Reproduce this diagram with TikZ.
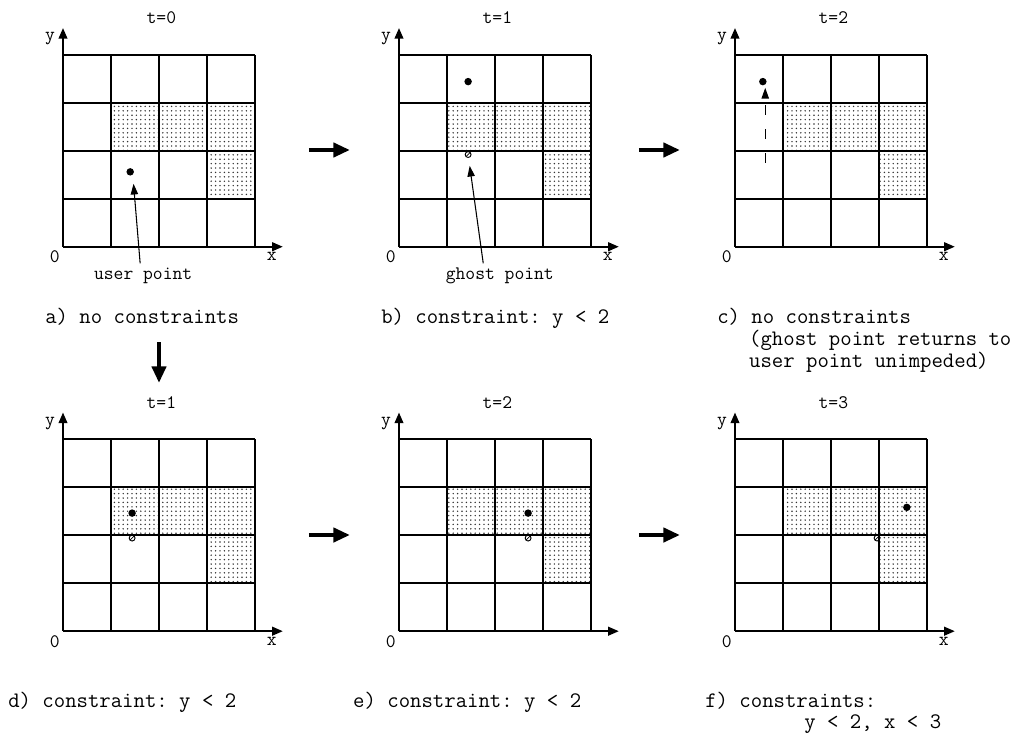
\documentclass[tikz,border=0pt]{standalone}
\usetikzlibrary{arrows.meta,positioning,patterns.meta}

\begin{document}
\frenchspacing
\begin{tikzpicture}[
    x=36pt, y=36pt,
    gridline/.style={line width=1.4pt},
    shaded/.style={pattern={Dots[distance=3.3pt, radius=0.6pt]}, pattern color=black!80},
    axis/.style={line width=1.4pt, -{Triangle[length=8pt, width=6.5pt]}},
    lbl/.style={font=\ttfamily\fontsize{14.3}{16}\selectfont, inner sep=0pt},
    captxt/.style={font=\ttfamily\fontsize{16.6}{16.5}\selectfont, inner sep=0pt, anchor=base west},
    userpt/.style={circle, fill=black, inner sep=0pt, minimum size=5.6pt},
    ghostpt/.style={circle, draw=black, line width=0.7pt, inner sep=0pt, minimum size=4.4pt,
        path picture={\draw[line width=0.5pt] (path picture bounding box.south west) -- (path picture bounding box.north east);}},
    pointer/.style={line width=0.8pt, -{Triangle[length=8pt, width=5.5pt]}},
    bigarr/.style={line width=3.5pt, -{Triangle[length=12.5pt, width=10.5pt]}}
]
    \useasboundingbox (0,0) rectangle (21.271,-15.417);

    % the six grids
    \foreach \ox/\oy/\tv/\xl [count=\i] in {1.3125/-5.14/0/x, 8.3125/-5.14/1/x, 15.3125/-5.14/2/x,
                                         1.3125/-13.15/1/x, 8.3125/-13.15/2/{}, 15.3125/-13.15/3/x} {
        \coordinate (p\i) at (\ox,\oy);
        \begin{scope}[shift={(\ox,\oy)}]
            \fill[shaded] (1,2) rectangle (4,3);
            \fill[shaded] (3,1) rectangle (4,2);
            \foreach \k in {0,...,4} {
                \draw[gridline] (\k,0) -- (\k,4);
                \draw[gridline] (0,\k) -- (4,\k);
            }
            \draw[axis] (0,4) -- (0,4.556);
            \draw[axis] (4,0) -- (4.58,0);
            \node[lbl] (y\i) at (-0.27,4.33) {y};
            \node[lbl] (o\i) at (-0.17,-0.21) {0};
            \node[lbl] (x\i) at (4.35,-0.21) {\xl};
            \node[lbl] (t\i) at (2.05,4.77) {t=\tv};
        \end{scope}
    }

    % a) no constraints
    \node[userpt] (ua) at ([shift={(1.4,1.56)}]p1) {};
    \node[lbl] (ula) at ([shift={(1.67,-0.6)}]p1) {user point};
    \draw[pointer, shorten <=3pt, shorten >=6pt] ([xshift=-2pt]ula.north) -- ([xshift=2pt]ua.south);
    \node[captxt] (capa) at ([shift={(-0.375,-1.59)}]p1) {a) no constraints};

    % b) constraint: y < 2
    \node[userpt] (ub) at ([shift={(1.44,3.44)}]p2) {};
    \node[ghostpt] (gb) at ([shift={(1.44,1.92)}]p2) {};
    \node[lbl] (glb) at ([shift={(2.1,-0.6)}]p2) {ghost point};
    \draw[pointer, shorten <=3pt, shorten >=6pt] ([xshift=-12pt]glb.north) -- (gb);
    \node[captxt] (capb) at ([shift={(-0.375,-1.59)}]p2) {b) constraint: y < 2};

    % c) no constraints
    \node[userpt] (uc) at ([shift={(0.58,3.44)}]p3) {};
    \coordinate (cs) at ([shift={(0.63,1.75)}]p3);
    \coordinate (ct) at ([shift={(0.63,3.31)}]p3);
    \draw[pointer, dash pattern=on 7.5pt off 10.5pt] (cs) -- (ct);
    \node[captxt] (capc) at ([shift={(-0.375,-1.59)}]p3) {c) no constraints};
    \node[captxt] (capc2) at ([shift={(0.29,-2.05)}]p3) {(ghost point returns to};
    \node[captxt] (capc3) at ([shift={(0.29,-2.51)}]p3) {user point unimpeded)};

    % d) e) f)
    \node[userpt] (ud) at ([shift={(1.44,2.46)}]p4) {};
    \node[ghostpt] (gd) at ([shift={(1.44,1.94)}]p4) {};
    \node[captxt] (capd) at ([shift={(-1.146,-1.58)}]p4) {d) constraint: y < 2};

    \node[userpt] (ue) at ([shift={(2.69,2.46)}]p5) {};
    \node[ghostpt] (ge) at ([shift={(2.69,1.94)}]p5) {};
    \node[captxt] (cape) at ([shift={(-0.96,-1.58)}]p5) {e) constraint: y < 2};

    \node[userpt] (uf) at ([shift={(3.58,2.58)}]p6) {};
    \node[ghostpt] (gf) at ([shift={(2.96,1.94)}]p6) {};
    \node[captxt] (capf) at ([shift={(-0.625,-1.58)}]p6) {f) constraints:};
    \node[captxt] (capf2) at ([shift={(1.44,-2.02)}]p6) {y < 2, x < 3};

    % step arrows
    \coordinate (ab1) at (6.4375,-3.125);
    \coordinate (ab2) at (7.2917,-3.125);
    \coordinate (bc1) at (13.3125,-3.125);
    \coordinate (bc2) at (14.1667,-3.125);
    \coordinate (ad1) at (3.3125,-7.125);
    \coordinate (ad2) at (3.3125,-7.979);
    \coordinate (de1) at (6.4375,-11.146);
    \coordinate (de2) at (7.2917,-11.146);
    \coordinate (ef1) at (13.3125,-11.146);
    \coordinate (ef2) at (14.1667,-11.146);
    \draw[bigarr] (ab1) -- (ab2);
    \draw[bigarr] (bc1) -- (bc2);
    \draw[bigarr] (ad1) -- (ad2);
    \draw[bigarr] (de1) -- (de2);
    \draw[bigarr] (ef1) -- (ef2);
\end{tikzpicture}
\end{document}
